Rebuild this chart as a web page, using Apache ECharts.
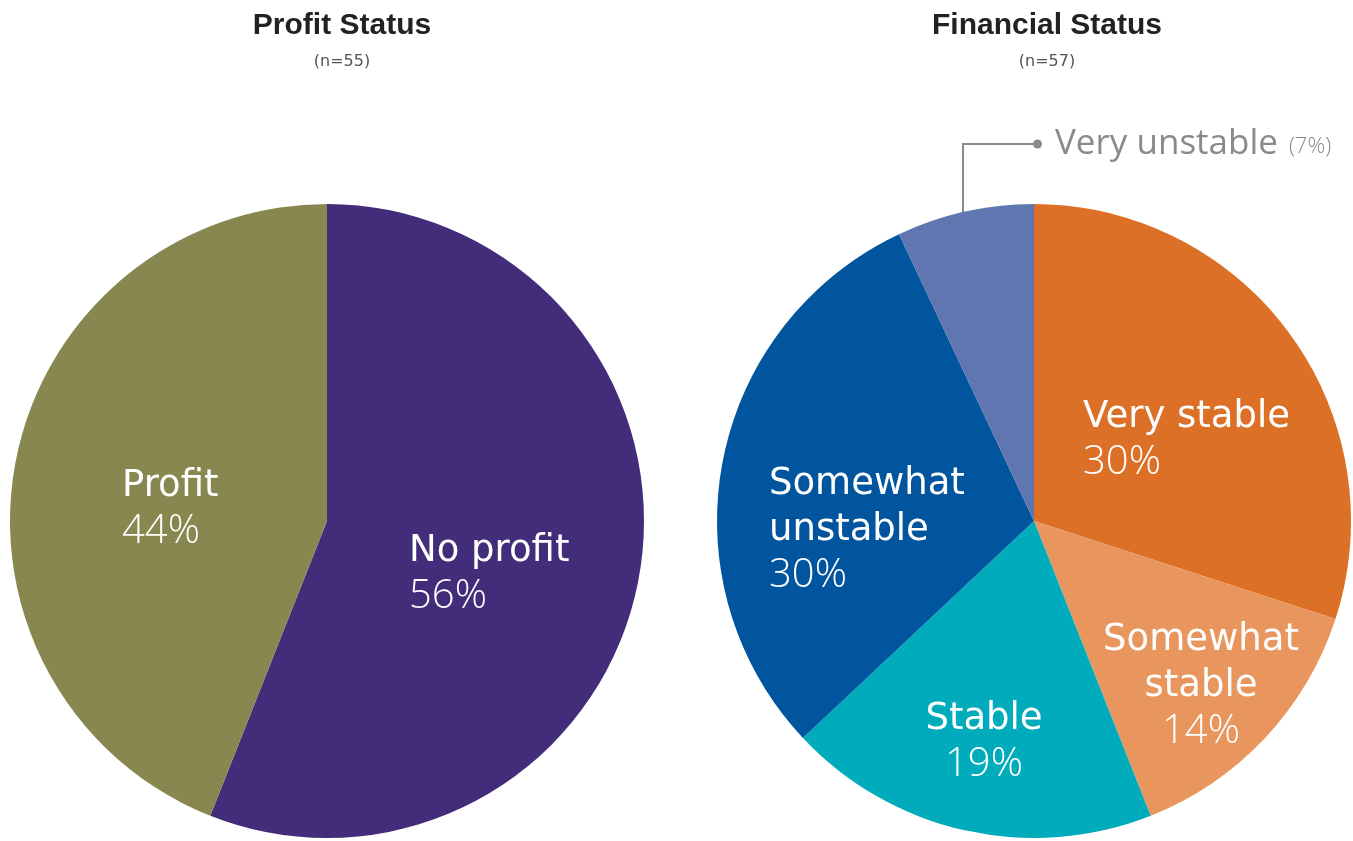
<!DOCTYPE html>
<html>
<head>
<meta charset="utf-8">
<script src="https://cdn.jsdelivr.net/npm/echarts@6/dist/echarts.min.js"></script>
<style>
  html, body { margin: 0; padding: 0; background: #fff; }
  #main { width: 1353px; height: 841px; }
</style>
</head>
<body>
<div id="main"></div>
<script>
// profit status (n=55)
var profitNames = ['No profit', 'Profit'];
var profitValues = [56, 44];
var profitColors = ['#432c7a', '#87874f'];

// financial status (n=57)
var finNames = ['Very stable', 'Somewhat\nstable', 'Stable', 'Somewhat\nunstable', 'Very unstable'];
var finValues = [30, 14, 19, 30, 7];
var finColors = ['#dd7027', '#e8965e', '#00abbc', '#00559e', '#6076b0'];

// where the labels sit (px), kept apart from the data
var profitLabelPos = [
  { x: 409, y: 574, align: 'left' },
  { x: 122, y: 509, align: 'left' }
];
var finLabelPos = [
  { x: 1083, y: 440, align: 'left' },
  { x: 1201, y: 686, align: 'center' },
  { x: 984, y: 742, align: 'center' },
  { x: 769, y: 530, align: 'left' },
  { x: 1033, y: 144, align: 'left', line: [[963, 230], [963, 144], [1037, 144]] }
];

var NAME_FONT = 'DejaVu Sans';
var LIGHT_FONT = 'Open Sans';
var TITLE_FONT = 'Liberation Sans';

function makeData(names, values, colors) {
  var res = [];
  for (var i = 0; i < names.length; i++) {
    res.push({ name: names[i], value: values[i], itemStyle: { color: colors[i] } });
  }
  return res;
}

function insideFormatter(p) {
  var lines = p.name.split('\n').map(function (s) { return '{n|' + s + '}'; });
  lines.push('{p|' + p.value + '%}');
  return lines.join('\n');
}

var richInside = {
  n: { color: '#fff', fontSize: 37, fontFamily: NAME_FONT, fontWeight: 400, lineHeight: 46 },
  p: { color: '#fff', fontSize: 40, fontFamily: LIGHT_FONT, fontWeight: 300, lineHeight: 46 }
};

function layoutFrom(table) {
  return function (params) {
    var a = table[params.dataIndex];
    var out = { x: a.x, y: a.y, align: a.align, verticalAlign: 'middle' };
    if (a.line) out.labelLinePoints = a.line;
    return out;
  };
}

var finData = makeData(finNames, finValues, finColors);
// the small slice is labelled outside with a leader line
finData[4].label = {
  position: 'outside',
  formatter: '{dot|}{n|Very unstable}{s|(7%)}',
  rich: {
    dot: { width: 9, height: 9, borderRadius: 4.5, backgroundColor: '#8a8a8c' },
    n: { color: '#8a8a8c', fontSize: 35, fontFamily: LIGHT_FONT, fontWeight: 400, padding: [0, 0, 0, 13] },
    s: { color: '#8a8a8c', fontSize: 22, fontFamily: LIGHT_FONT, fontWeight: 300, padding: [6, 0, 0, 11] }
  }
};
finData[4].labelLine = { show: true, lineStyle: { color: '#8a8a8c', width: 2 } };

var chart = echarts.init(document.getElementById('main'), null, { renderer: 'canvas' });

var option = {
  backgroundColor: '#fff',
  animation: false,
  title: [
    {
      text: 'Profit Status', subtext: '(n=55)',
      left: 337, top: 6, textAlign: 'center', itemGap: 13,
      textStyle: { fontFamily: TITLE_FONT, fontWeight: 'bold', fontSize: 30, color: '#222' },
      subtextStyle: { fontFamily: NAME_FONT, fontSize: 16, color: '#555' }
    },
    {
      text: 'Financial Status', subtext: '(n=57)',
      left: 1042, top: 6, textAlign: 'center', itemGap: 13,
      textStyle: { fontFamily: TITLE_FONT, fontWeight: 'bold', fontSize: 30, color: '#222' },
      subtextStyle: { fontFamily: NAME_FONT, fontSize: 16, color: '#555' }
    }
  ],
  series: [
    {
      name: 'Profit Status',
      type: 'pie',
      center: [327, 521],
      radius: 317,
      startAngle: 90,
      clockwise: true,
      silent: true,
      data: makeData(profitNames, profitValues, profitColors),
      itemStyle: { borderWidth: 0 },
      label: { show: true, position: 'inside', formatter: insideFormatter, rich: richInside },
      labelLine: { show: false },
      labelLayout: layoutFrom(profitLabelPos)
    },
    {
      name: 'Financial Status',
      type: 'pie',
      center: [1034, 521],
      radius: 317,
      startAngle: 90,
      clockwise: true,
      silent: true,
      data: finData,
      itemStyle: { borderWidth: 0 },
      label: { show: true, position: 'inside', formatter: insideFormatter, rich: richInside },
      labelLine: { show: false },
      labelLayout: layoutFrom(finLabelPos)
    }
  ]
};

chart.setOption(option);
</script>
</body>
</html>
